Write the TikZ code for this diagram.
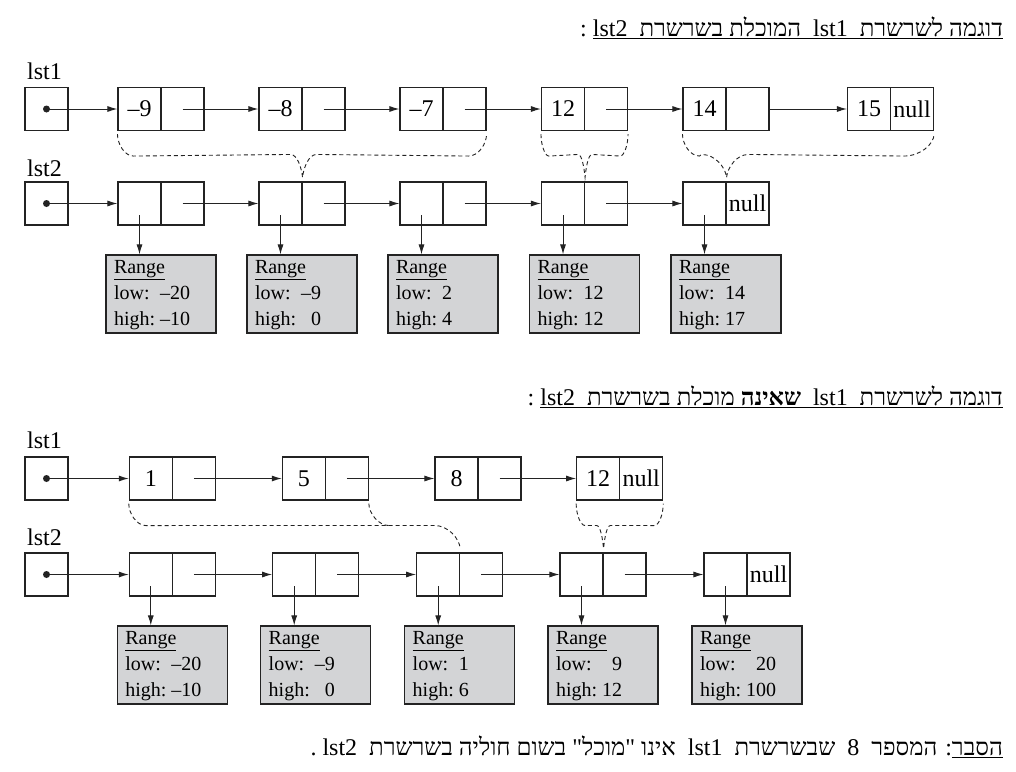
\documentclass[tikz,border=0pt]{standalone}
\usepackage{fontspec}
\setmainfont{Liberation Serif}
\newfontfamily\heb[Script=Hebrew]{Liberation Serif}
\TeXXeTstate=1
\usetikzlibrary{arrows.meta,calc}
\definecolor{linecol}{RGB}{35,35,35}
\definecolor{rangefill}{RGB}{211,212,214}
\newcommand\rng[2]{\makebox[94pt][l]{\begin{tabular}{@{}l@{\hspace{5pt}}r@{}}\multicolumn{2}{@{}l@{}}{\underline{Range}}\\ low: & #1\\ high: & #2\end{tabular}}}
\newcommand\dashbrace[7]{\draw[dsh] ($(#1)+(0,3)$) .. controls +(0,10) and +({-0.55*#4},0) .. ($(#1)+(#4,25)$) -- ($(#3)+({-#5},-27)$) .. controls +({0.55*#5},0) and +(-1,-10) .. ($(#3)+(0,-4)$) .. controls +(1,-10) and +({-0.55*#6},0) .. ($(#3)+(#6,-27)$) -- ($(#2)+({-#7},25)$) .. controls +({0.55*#7},0) and +(0,10) .. ($(#2)+(0,3)$);}
\begin{document}
\begin{tikzpicture}[x=1pt,y=-1pt,
  cell/.style={draw=linecol, line width=1.1pt, minimum width=43pt, minimum height=43pt, inner sep=0pt, font=\fontsize{24}{28}\selectfont},
  rbox/.style={draw=linecol, fill=rangefill, line width=1.1pt, inner xsep=8pt, inner ysep=0pt, font=\fontsize{20}{26}\selectfont},
  arr/.style={-{Latex[length=10pt,width=6pt]}, line width=1pt, draw=linecol},
  dsh/.style={dash pattern=on 4pt off 3pt, line width=0.9pt, draw=linecol},
  lbl/.style={anchor=base west, inner sep=0pt, font=\fontsize{24}{28}\selectfont},
  htitle/.style={anchor=base east, inner sep=0pt, font=\fontsize{24}{28}\selectfont}]
\useasboundingbox[fill=white] (0,0) rectangle (1016,771);

% ---------- titles ----------
\node[htitle] (title1) at (1003,36) {:\ \underline{\heb\beginR דוגמה לשרשרת\ \ \beginL lst1\endL\ \ המוכלת בשרשרת\ \ \beginL lst2\endL\endR}};
\node[htitle] (title2) at (1003,405) {:\ \underline{\heb\beginR דוגמה לשרשרת\ \ \beginL lst1\endL\ \ \textbf{שאינה} מוכלת בשרשרת\ \ \beginL lst2\endL\endR}};
\node[htitle] (expl) at (1003,755) {\heb\beginR\underline{\beginR הסבר\endR}: המספר\ \ 8\ \ שבשרשרת\ \ \beginL lst1\endL\ \ אינו "מוכל" בשום חוליה בשרשרת\ \ \beginL lst2\endL\ .\endR};

% ---------- top example ----------
\node[lbl] (lt1) at (27,79) {lst1};
\node[lbl] (lt2) at (27,176) {lst2};
\node[cell] (ht1) at (46.5,109) {};
\node[cell] (ht2) at (46.5,203.5) {};
\fill[linecol] (ht1.center) circle (3.5pt);
\fill[linecol] (ht2.center) circle (3.5pt);

\node[cell] (t1l) at (139.5,109) {\textendash9};  \node[cell] (t1r) at (182.5,109) {};
\node[cell] (t2l) at (280.5,109) {\textendash8};  \node[cell] (t2r) at (323.5,109) {};
\node[cell] (t3l) at (421.5,109) {\textendash7};  \node[cell] (t3r) at (464.5,109) {};
\node[cell] (t4l) at (563,109) {12};  \node[cell] (t4r) at (606,109) {};
\node[cell] (t5l) at (704.5,109) {14};  \node[cell] (t5r) at (747.5,109) {};
\node[cell] (t6l) at (869,109) {15};  \node[cell] (t6r) at (912,109) {null};

\node[cell] (b1l) at (139.5,203.5) {};  \node[cell] (b1r) at (182.5,203.5) {};
\node[cell] (b2l) at (280.5,203.5) {};  \node[cell] (b2r) at (323.5,203.5) {};
\node[cell] (b3l) at (421.5,203.5) {};  \node[cell] (b3r) at (464.5,203.5) {};
\node[cell] (b4l) at (563,203.5) {};  \node[cell] (b4r) at (606,203.5) {};
\node[cell] (b5l) at (704.5,203.5) {};  \node[cell] (b5r) at (747.5,203.5) {null};

\node[rbox] (r1) at (161,294) {\rng{\textendash20}{\textendash10}};
\node[rbox] (r2) at (302,294) {\rng{\textendash9}{0}};
\node[rbox] (r3) at (443,294) {\rng{2}{4}};
\node[rbox] (r4) at (584.5,294) {\rng{12}{12}};
\node[rbox] (r5) at (726,294) {\rng{14}{17}};

\draw[arr] (ht1.center) -- (t1l.west);
\draw[arr] (t1r.center) -- (t2l.west);
\draw[arr] (t2r.center) -- (t3l.west);
\draw[arr] (t3r.center) -- (t4l.west);
\draw[arr] (t4r.center) -- (t5l.west);
\draw[arr] (t5r.east) -- (t6l.west);

\draw[arr] (ht2.center) -- (b1l.west);
\draw[arr] (b1r.center) -- (b2l.west);
\draw[arr] (b2r.center) -- (b3l.west);
\draw[arr] (b3r.center) -- (b4l.west);
\draw[arr] (b4r.center) -- (b5l.west);

\foreach \i in {1,...,5}{
  \draw[arr] ($(b\i l.center)+(0,11.5)$) -- (b\i l.center |- r\i.north);
}

\dashbrace{t1l.south west}{t3r.south east}{b2l.north east}{16}{12}{14}{18}
\dashbrace{t4l.south west}{t4r.south east}{b4l.north east}{8}{7}{7}{8}
\dashbrace{t5l.south west}{t6r.south east}{b5l.north east}{17}{25}{22}{30}

% ---------- bottom example ----------
\node[lbl] (lb1) at (27,448) {lst1};
\node[lbl] (lb2) at (27,545) {lst2};
\node[cell] (hb1) at (46.5,478.5) {};
\node[cell] (hb2) at (46.5,574.5) {};
\fill[linecol] (hb1.center) circle (3.5pt);
\fill[linecol] (hb2.center) circle (3.5pt);

\node[cell] (u1l) at (150.8,478.5) {1};  \node[cell] (u1r) at (193.8,478.5) {};
\node[cell] (u2l) at (303.8,478.5) {5};  \node[cell] (u2r) at (346.8,478.5) {};
\node[cell] (u3l) at (456.5,478.5) {8};  \node[cell] (u3r) at (499.5,478.5) {};
\node[cell] (u4l) at (598.2,478.5) {12};  \node[cell] (u4r) at (641.2,478.5) {null};

\node[cell] (v1l) at (150.8,574.5) {};  \node[cell] (v1r) at (193.8,574.5) {};
\node[cell] (v2l) at (294.2,574.5) {};  \node[cell] (v2r) at (337.2,574.5) {};
\node[cell] (v3l) at (438.2,574.5) {};  \node[cell] (v3r) at (481.2,574.5) {};
\node[cell] (v4l) at (581.5,574.5) {};  \node[cell] (v4r) at (624.5,574.5) {};
\node[cell] (v5l) at (725.5,574.5) {};  \node[cell] (v5r) at (768.5,574.5) {null};

\node[rbox] (s1) at (172.3,665) {\rng{\textendash20}{\textendash10}};
\node[rbox] (s2) at (315.7,665) {\rng{\textendash9}{0}};
\node[rbox] (s3) at (459.7,665) {\rng{1}{6}};
\node[rbox] (s4) at (603,665) {\rng{9}{12}};
\node[rbox] (s5) at (747,665) {\rng{20}{100}};

\draw[arr] (hb1.center) -- (u1l.west);
\draw[arr] (u1r.center) -- (u2l.west);
\draw[arr] (u2r.center) -- (u3l.west);
\draw[arr] (u3r.center) -- (u4l.west);

\draw[arr] (hb2.center) -- (v1l.west);
\draw[arr] (v1r.center) -- (v2l.west);
\draw[arr] (v2r.center) -- (v3l.west);
\draw[arr] (v3r.center) -- (v4l.west);
\draw[arr] (v4r.center) -- (v5l.west);

\foreach \i in {1,...,5}{
  \draw[arr] ($(v\i l.center)+(0,11.5)$) -- (v\i l.center |- s\i.north);
}

\draw[dsh] ($(u1l.south west)+(0,3)$) .. controls +(0,10) and +(-9,0) .. ($(u1l.south west)+(17,25)$)
  -- ($(v3l.north east)+(-26,-27)$) .. controls +(14,0) and +(-1,-10) .. ($(v3l.north east)+(0,-4)$);
\draw[dsh] ($(u2r.south east)+(0,3)$) .. controls +(0,10) and +(-10,0) .. ($(u2r.south east)+(20,25)$);
\dashbrace{u4l.south west}{u4r.south east}{v4l.north east}{9}{7}{7}{9}
\end{tikzpicture}
\end{document}
